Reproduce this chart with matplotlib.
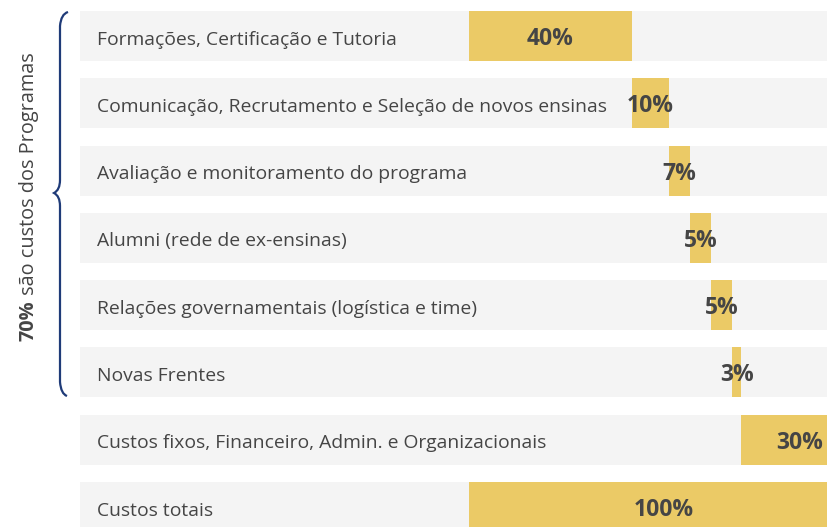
import matplotlib.pyplot as plt
from matplotlib.path import Path
from matplotlib.patches import PathPatch

# Data
categories = [
    "Formações, Certificação e Tutoria",
    "Comunicação, Recrutamento e Seleção de novos ensinas",
    "Avaliação e monitoramento do programa",
    "Alumni (rede de ex-ensinas)",
    "Relações governamentais (logística e time)",
    "Novas Frentes",
    "Custos fixos, Financeiro, Admin. e Organizacionais",
    "Custos totais",
]
shares = [41.9, 9.5, 5.4, 5.4, 5.4, 2.4, 30.0]   # bar widths
total = 100.0
pct_labels = ["40%", "10%", "7%", "5%", "5%", "3%", "30%", "100%"]

gold = "#ebca66"
band = "#f4f4f4"
text_col = "#454545"
navy = "#1f3b78"

plt.rcParams['font.family'] = ['Open Sans', 'DejaVu Sans']

W, H = 828, 527
fig = plt.figure(figsize=(W / 100, H / 100), dpi=100)
ax = fig.add_axes([80 / W, 0, 748 / W, 1])

xmin, xmax = -100, 92.3
ax.set_xlim(xmin, xmax)
ax.set_ylim(7.296, -0.535)
ax.axis('off')

ys = list(range(len(categories)))
bh = 0.743
row_px = 67.3

# grey background bands
ax.barh(ys, [xmax - xmin] * len(ys), left=xmin, height=bh, color=band, zorder=0)

# waterfall bars
lefts = []
acc = 0.0
for s in shares:
    lefts.append(acc)
    acc += s
widths = shares + [total]
lefts = lefts + [0.0]
ax.barh(ys, widths, left=lefts, height=bh, color=gold, zorder=1)

# text
for y, cat, l, w, lab in zip(ys, categories, lefts, widths, pct_labels):
    ax.text(xmin + 17 / 3.89, y + 8.5 / row_px, cat, ha='left', va='baseline',
            fontsize=13.9, color=text_col, zorder=2)
    ax.text(l + w / 2, y + 9 / row_px, lab, ha='center', va='baseline',
            fontsize=16.5, fontweight='bold', color=text_col, zorder=3,
            clip_on=False)

# curly brace on the left
def px(x, y):
    return (x / W, 1 - y / H)

verts = [px(68, 12), px(61, 14), px(60, 26),
         px(60, 180),
         px(60, 190), px(54, 193),
         px(60, 196), px(60, 206),
         px(60, 382),
         px(61, 394), px(67, 396)]
codes = [Path.MOVETO, Path.CURVE3, Path.CURVE3,
         Path.LINETO,
         Path.CURVE3, Path.CURVE3,
         Path.CURVE3, Path.CURVE3,
         Path.LINETO,
         Path.CURVE3, Path.CURVE3]
fig.patches.append(PathPatch(Path(verts, codes), transform=fig.transFigure,
                             facecolor='none', edgecolor=navy, lw=1.6))

# rotated side note, "70%" in bold followed by the rest
t1 = fig.text(29 / W, 1 - 341 / H, "70%", rotation=90, ha='center', va='bottom',
              fontsize=14.3, fontweight='bold', color=text_col)
fig.canvas.draw()
bb = t1.get_window_extent(renderer=fig.canvas.get_renderer())
fig.text(29 / W, bb.y1 / H, " são custos dos Programas", rotation=90,
         ha='center', va='bottom', fontsize=14.3, color=text_col)

fig.savefig("out.png", dpi=100)
